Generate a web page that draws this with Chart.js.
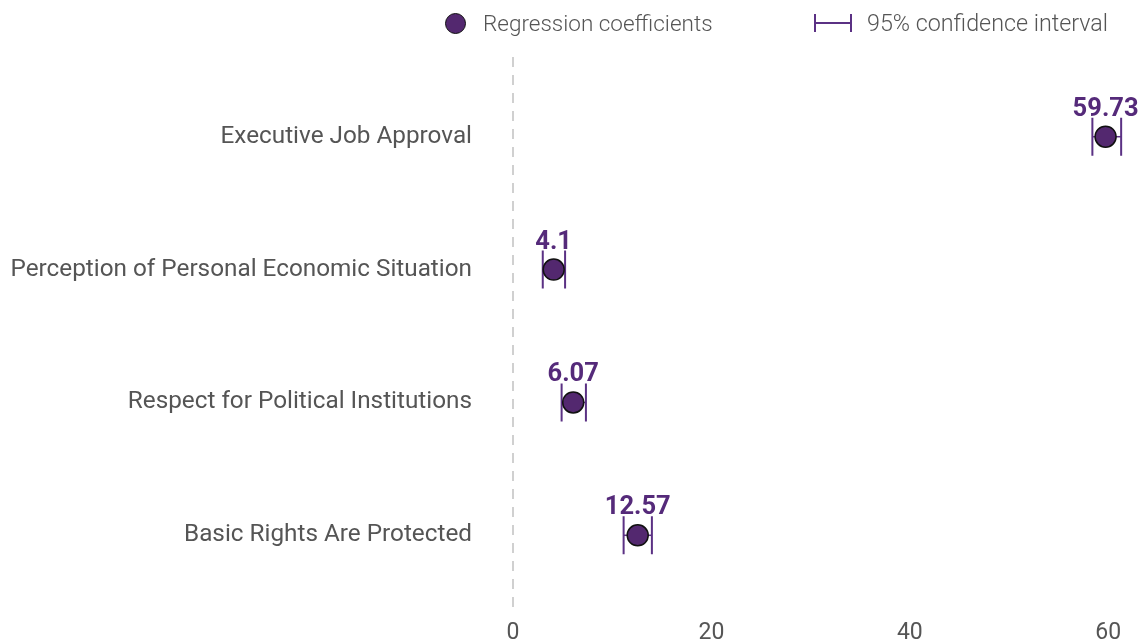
<!DOCTYPE html>
<html>
<head>
<meta charset="utf-8">
<script src="https://cdn.jsdelivr.net/npm/chart.js@4/dist/chart.umd.min.js"></script>
<style>
  html, body { margin: 0; padding: 0; background: #fff; overflow: hidden; }
  #wrap { position: relative; width: 1152px; height: 646px; }
  #legend { position: absolute; top: 9px; left: 0; width: 1139px; height: 28px;
    font-family: Roboto, sans-serif; font-weight: 300; font-size: 22.5px; color: #555; }
  .item { position: absolute; top: 0; display: flex; align-items: center; height: 28px; }
  .dot { width: 21px; height: 21px; border-radius: 50%; background: #53286f; border: 1.5px solid #111; box-sizing: border-box; }
  .ci { position: relative; width: 38px; height: 18px; }
  .ci:before { content: ''; position: absolute; left: 1px; right: 1px; top: 8px; height: 1.5px; background: #5b3184; }
  .ci:after { content: ''; position: absolute; left: 0; right: 0; top: 0; bottom: 0; border-left: 2px solid #5b3184; border-right: 2px solid #5b3184; }
</style>
</head>
<body>
<div id="wrap">
  <div id="legend">
    <div class="item" style="left:445px"><div class="dot"></div><span style="margin-left:17px">Regression coefficients</span></div>
    <div class="item" style="left:814px"><div class="ci"></div><span style="margin-left:15px;font-size:23.3px">95% confidence interval</span></div>
  </div>
  <canvas id="chart"></canvas>
</div>
<script>
const categories = ['Executive Job Approval', 'Perception of Personal Economic Situation', 'Respect for Political Institutions', 'Basic Rights Are Protected'];
const coefficients = [59.73, 4.1, 6.07, 12.57];
const ciLow = [58.4, 3.0, 4.9, 11.15];
const ciHigh = [61.3, 5.25, 7.35, 14.0];
const xTicks = [0, 20, 40, 60];

const purple = '#53286f';
const whiskerColor = '#5b3184';
const labelColor = '#552a7a';

const errorBars = {
  id: 'errorBars',
  beforeDatasetsDraw(chart) {
    const { ctx, scales: { x, y } } = chart;
    ctx.save();
    ctx.strokeStyle = whiskerColor;
    categories.forEach((c, i) => {
      const py = y.getPixelForValue(i);
      const x1 = x.getPixelForValue(ciLow[i]);
      const x2 = x.getPixelForValue(ciHigh[i]);
      ctx.lineWidth = 1.5;
      ctx.beginPath();
      ctx.moveTo(x1, py); ctx.lineTo(x2, py);
      ctx.stroke();
      ctx.lineWidth = 2;
      ctx.beginPath();
      ctx.moveTo(x1, py - 19); ctx.lineTo(x1, py + 19);
      ctx.moveTo(x2, py - 19); ctx.lineTo(x2, py + 19);
      ctx.stroke();
    });
    ctx.restore();
  },
  afterDatasetsDraw(chart) {
    const { ctx, scales: { x, y } } = chart;
    ctx.save();
    ctx.fillStyle = labelColor;
    ctx.font = 'bold 25.5px Roboto, sans-serif';
    ctx.textAlign = 'center';
    ctx.textBaseline = 'alphabetic';
    coefficients.forEach((v, i) => {
      ctx.fillText(String(v), x.getPixelForValue(v), y.getPixelForValue(i) - 21);
    });
    ctx.restore();
  }
};

new Chart(document.getElementById('chart'), {
  type: 'scatter',
  data: {
    datasets: [{
      label: 'Regression coefficients',
      data: coefficients.map((v, i) => ({ x: v, y: i })),
      backgroundColor: purple,
      borderColor: '#111',
      borderWidth: 1.5,
      pointRadius: 10.5,
      pointHoverRadius: 10.5
    }]
  },
  options: {
    responsive: true,
    maintainAspectRatio: false,
    animation: false,
    layout: { padding: { top: 57, right: 0, left: 0, bottom: 0 } },
    plugins: { legend: { display: false }, tooltip: { enabled: false } },
    scales: {
      x: {
        type: 'linear',
        min: 0,
        max: 63.2,
        afterBuildTicks: (axis) => { axis.ticks = xTicks.map(v => ({ value: v })); },
        afterFit: (axis) => { axis.height = 31; axis.paddingLeft = 0; axis.paddingRight = 0; },
        grid: {
          drawTicks: false,
          color: (ctx) => ctx.tick && ctx.tick.value === 0 ? '#d0d0d0' : 'transparent',
          lineWidth: 2
        },
        border: { display: false, dash: [10, 8] },
        ticks: { color: '#555', font: { family: 'Roboto, sans-serif', size: 23 }, padding: 4 }
      },
      y: {
        type: 'linear',
        reverse: true,
        min: -0.6,
        max: 3.6,
        afterBuildTicks: (axis) => { axis.ticks = categories.map((c, i) => ({ value: i })); },
        afterFit: (axis) => { axis.width = 513; axis.paddingTop = 0; axis.paddingBottom = 0; },
        grid: { display: false, drawTicks: false },
        border: { display: false },
        ticks: {
          color: '#555',
          font: { family: 'Roboto, sans-serif', size: 24.3 },
          padding: 41,
          callback: (v) => categories[v]
        }
      }
    }
  },
  plugins: [errorBars]
});
</script>
</body>
</html>
